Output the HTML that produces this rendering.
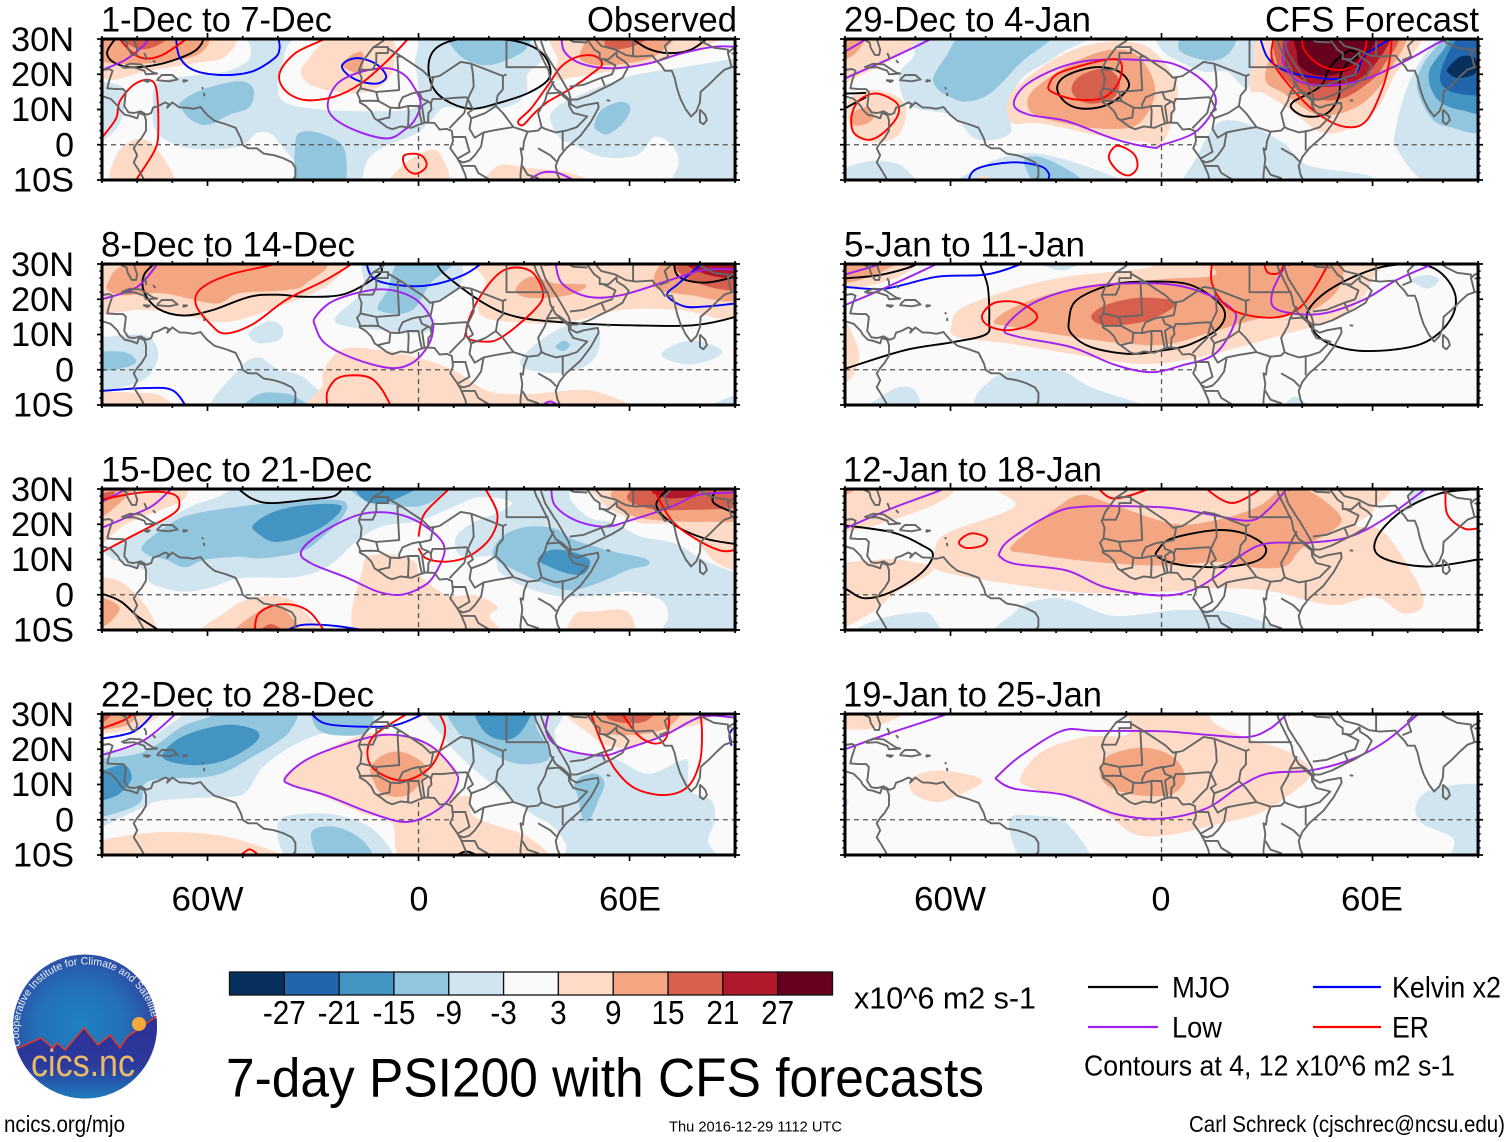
<!DOCTYPE html>
<html lang="en">
<head>
<meta charset="utf-8">
<title>7-day PSI200 with CFS forecasts</title>
<style>
html,body{margin:0;padding:0;background:#fff;}
svg{display:block;}
text{font-family:"Liberation Sans",sans-serif;fill:#000;}
</style>
</head>
<body>
<svg id="chart" xmlns="http://www.w3.org/2000/svg" width="1510" height="1142" viewBox="0 0 1510 1142">
<rect width="1510" height="1142" fill="#fff"/>
<g id="panels"></g>

<g font-size="35">
<text x="101" y="31.5" textLength="231" lengthAdjust="spacingAndGlyphs">1-Dec to 7-Dec</text>
<text x="101" y="256.5" textLength="254" lengthAdjust="spacingAndGlyphs">8-Dec to 14-Dec</text>
<text x="101" y="481.5" textLength="271" lengthAdjust="spacingAndGlyphs">15-Dec to 21-Dec</text>
<text x="101" y="706.5" textLength="273" lengthAdjust="spacingAndGlyphs">22-Dec to 28-Dec</text>
<text x="587" y="31.5" textLength="150" lengthAdjust="spacingAndGlyphs">Observed</text>
<text x="844" y="31.5" textLength="247" lengthAdjust="spacingAndGlyphs">29-Dec to 4-Jan</text>
<text x="844" y="256.5" textLength="241" lengthAdjust="spacingAndGlyphs">5-Jan to 11-Jan</text>
<text x="843" y="481.5" textLength="259" lengthAdjust="spacingAndGlyphs">12-Jan to 18-Jan</text>
<text x="843" y="706.5" textLength="259" lengthAdjust="spacingAndGlyphs">19-Jan to 25-Jan</text>
<text x="1265" y="31.5" textLength="214" lengthAdjust="spacingAndGlyphs">CFS Forecast</text>
</g>

<g font-size="34" text-anchor="end">
<text x="74" y="51" textLength="63" lengthAdjust="spacingAndGlyphs">30N</text>
<text x="74" y="86" textLength="63" lengthAdjust="spacingAndGlyphs">20N</text>
<text x="74" y="121" textLength="63" lengthAdjust="spacingAndGlyphs">10N</text>
<text x="74" y="156.5">0</text>
<text x="74" y="191.5" textLength="61" lengthAdjust="spacingAndGlyphs">10S</text>
<text x="74" y="276" textLength="63" lengthAdjust="spacingAndGlyphs">30N</text>
<text x="74" y="311" textLength="63" lengthAdjust="spacingAndGlyphs">20N</text>
<text x="74" y="346" textLength="63" lengthAdjust="spacingAndGlyphs">10N</text>
<text x="74" y="381.5">0</text>
<text x="74" y="416.5" textLength="61" lengthAdjust="spacingAndGlyphs">10S</text>
<text x="74" y="501" textLength="63" lengthAdjust="spacingAndGlyphs">30N</text>
<text x="74" y="536" textLength="63" lengthAdjust="spacingAndGlyphs">20N</text>
<text x="74" y="571" textLength="63" lengthAdjust="spacingAndGlyphs">10N</text>
<text x="74" y="606.5">0</text>
<text x="74" y="641.5" textLength="61" lengthAdjust="spacingAndGlyphs">10S</text>
<text x="74" y="726" textLength="63" lengthAdjust="spacingAndGlyphs">30N</text>
<text x="74" y="761" textLength="63" lengthAdjust="spacingAndGlyphs">20N</text>
<text x="74" y="796" textLength="63" lengthAdjust="spacingAndGlyphs">10N</text>
<text x="74" y="831.5">0</text>
<text x="74" y="866.5" textLength="61" lengthAdjust="spacingAndGlyphs">10S</text>
</g>

<g font-size="34" text-anchor="middle">
<text x="207.5" y="910.5" textLength="72" lengthAdjust="spacingAndGlyphs">60W</text>
<text x="419" y="910.5">0</text>
<text x="630" y="910.5" textLength="62" lengthAdjust="spacingAndGlyphs">60E</text>
<text x="950" y="910.5" textLength="72" lengthAdjust="spacingAndGlyphs">60W</text>
<text x="1161" y="910.5">0</text>
<text x="1372" y="910.5" textLength="62" lengthAdjust="spacingAndGlyphs">60E</text>
</g>

<g id="colorbar"></g>
<text x="854" y="1008.5" font-size="31" textLength="182" lengthAdjust="spacingAndGlyphs">x10^6 m2 s-1</text>

<g font-size="30">
<line x1="1088" y1="987" x2="1158" y2="987" stroke="#000" stroke-width="2.2"/>
<text x="1172" y="997.5" textLength="58" lengthAdjust="spacingAndGlyphs">MJO</text>
<line x1="1313" y1="987" x2="1381" y2="987" stroke="#0000ff" stroke-width="2.2"/>
<text x="1392" y="997.5" textLength="109" lengthAdjust="spacingAndGlyphs">Kelvin x2</text>
<line x1="1088" y1="1027" x2="1158" y2="1027" stroke="#a020f0" stroke-width="2.2"/>
<text x="1172" y="1037.5" textLength="50" lengthAdjust="spacingAndGlyphs">Low</text>
<line x1="1313" y1="1027" x2="1381" y2="1027" stroke="#ff0000" stroke-width="2.2"/>
<text x="1392" y="1037.5" textLength="37" lengthAdjust="spacingAndGlyphs">ER</text>
<text x="1084" y="1075.5" font-size="29" textLength="371" lengthAdjust="spacingAndGlyphs">Contours at 4, 12 x10^6 m2 s-1</text>
</g>

<text x="226" y="1096.5" font-size="55" textLength="758" lengthAdjust="spacingAndGlyphs">7-day PSI200 with CFS forecasts</text>
<text x="4" y="1132" font-size="23" textLength="121" lengthAdjust="spacingAndGlyphs">ncics.org/mjo</text>
<text x="669" y="1131.5" font-size="15" textLength="173" lengthAdjust="spacingAndGlyphs">Thu 2016-12-29 1112 UTC</text>
<text x="1189" y="1132" font-size="23" textLength="316" lengthAdjust="spacingAndGlyphs">Carl Schreck (cjschrec@ncsu.edu)</text>

<g>
<defs>
<radialGradient id="logoSky" cx="0.47" cy="0.5" r="0.55">
<stop offset="0" stop-color="#1f82c2"/><stop offset="0.55" stop-color="#2470b6"/><stop offset="1" stop-color="#2e46a2"/>
</radialGradient>
<linearGradient id="logoGround" x1="0" y1="0" x2="0" y2="1">
<stop offset="0" stop-color="#2c2f96"/><stop offset="0.6" stop-color="#2c3a9c"/><stop offset="1" stop-color="#1d7fc0"/>
</linearGradient>
<clipPath id="logoClip"><circle cx="85" cy="1026.5" r="72"/></clipPath>
<path id="logoArc" d="M20.5 1046 A67 67 0 1 1 151.5 1017"/>
</defs>
<circle cx="85" cy="1026.5" r="72" fill="url(#logoSky)"/>
<g clip-path="url(#logoClip)">
<path d="M10 1050 L18 1048 L41 1038 L53 1048 L57 1043 L65 1050 L84 1028 L98 1045 L110 1035 L120 1048 L127 1037 L160 1014 L160 1100 L10 1100 Z" fill="url(#logoGround)" stroke="#e0392a" stroke-width="1.5"/>
</g>
<circle cx="139" cy="1024" r="7" fill="#f6a93b"/>
<text font-size="10.5" style="fill:#eef4fb"><textPath href="#logoArc">Cooperative Institute for Climate and Satellites</textPath></text>
<text x="31" y="1076" font-size="38" textLength="104" lengthAdjust="spacingAndGlyphs" style="fill:#e9b96a">cics.nc</text>
</g>
</svg>

<script>
// ---------- colour scale values ----------
const levelBoundaries = [-27,-21,-15,-9,-3,3,9,15,21,27];
const bandCentres = [-30,-24,-18,-12,-6,0,6,12,18,24,30];
const bandColours = ['#07305f','#2166ac','#4393c3','#92c5de','#d1e5f0','#fafafa','#fddbc7','#f4a582','#d6604d','#b2182b','#67001f'];

// ---------- axis ticks ----------
const lonMajorTicks = [-60,0,60];
const lonMinorTicks = [-90,-80,-70,-50,-40,-30,-20,-10,10,20,30,40,50,70,80,90];
const latMajorTicks = [30,20,10,0,-10];
const latMinorTicks = [28,26,24,22,18,16,14,12,8,6,4,2,-2,-4,-6,-8];
const equatorVisibleLons = [[-90,10],[43,90]];
const meridianVisibleLats = [5,-10];

// ---------- map geometry (lon,lat) ----------
const coastlines = [
[-90,21.2,-88,21.5,-87,21,-87.5,19.5,-88,18,-88.5,16,-86,15.8,-84,15.8,-83.2,15,-83.5,12.5,-83.7,11,-82.5,9.2,-81,9,-80,9.2,-79,9.5,-77.3,8.5,-76,9,-75.5,10.5,-74,11,-72,12,-71,11.5,-71.5,10.5,-70,12,-68,10.6,-66,10.5,-64,10.2,-62,10.7,-61,9.5,-60,8.4,-58,6.8,-55,5.9,-52,4.8,-50.5,1.8,-50,0,-48.5,-1,-46,-1,-44,-2.5,-41,-3,-38.5,-3.8,-36,-5,-35,-6.5,-35,-9,-36.5,-11],
[-90,13.8,-87.5,13,-85.5,11,-85,10,-83.5,8.5,-82,8.2,-80,7.5,-79.5,9,-78,8.5,-77.5,7,-77.5,4,-78.7,2,-80,0.5,-81,-1,-80,-3,-81,-5,-79.7,-7,-78.5,-9,-77,-12],
[-90,29.5,-88,30.3,-85,30,-83,29,-82.7,27.5,-81.5,25.5,-80.3,25.5,-80,27,-81,30,-81,31],
[-84.5,22,-82,23,-79,22.8,-75.5,20.5,-74.3,20.2,-77.5,20,-78,21,-81,22,-84,21.8],
[-74.3,18.5,-73,19.8,-70,19.8,-68.5,18.5,-71,18,-74.3,18.3,-74.3,18.5],
[-78.3,18.3,-76.4,18.2,-77,17.8,-78.3,18.3],
[-67,18.3,-65.8,18.2,-66.8,17.9,-67,18.3],
[-78,26,-77.5,25,-77.5,24],[-75.5,24,-74.8,23.2],[-61.6,16.3,-61.2,15.8],[-61,14.7,-60.9,13.8],
[-5.5,35,-9.5,32,-10,29.5,-13,27.5,-16,23.5,-17,21,-16.2,19,-16.5,16,-17.5,14.7,-16.7,13,-16.7,12,-15,11,-13.5,9.5,-12.5,7.5,-11,6.5,-9,5,-7.5,4.4,-5,5.2,-2,4.8,0,5.7,2,6.3,4.5,6.2,6,4.3,8,4.5,9.5,3.9,9.8,1,9,-1,11,-3.8,12,-5.5,13.3,-8.5,13.8,-11],
[32.5,31,33.5,28,34.5,26,35.5,24,37,21,37.5,18.5,39,15.8,41,14.5,43.2,12.5,43.2,11.5,45,10.5,47,11.2,51,11.9,51.2,10.5,49,6.5,46,2.5,42,-1,40,-3.5,39,-6,39.5,-8.5,40.5,-10.5,40.5,-12],
[34.8,29.5,36,26,38.5,22,39.2,21,41,18,42.7,15,43.3,12.8,45,12.8,48.5,14,52,15.8,55,17.2,58,19,59.8,22.4,58.5,23.7,56.4,25,56.3,26.2,54,24.2,51.5,24.3,51.5,26,50,27,48,29.8,50,30.2,52,28,56,27,59,25.4,62,25,66.5,25.3,67.5,24,69,22.5,70,21,72,21,72.8,19,73.5,16,74.5,13,76,10,77.5,8,79,9.5,80,12,80.2,15,82.5,17,85,19.5,87,21.3,89,22,91,22.5],
[80,10,81.5,8.5,82,7,81,5.8,80,6.5,80,10],
[53.5,12.6,54.5,12.5]
];
const borders = [
[-13,27.7,-8.7,27.7,-8.7,26,-12,26,-12,23.5,-13,21.3,-17,21.3],
[-8.7,27.3,-4.8,25,-6,25,-5.5,15.5,-12,15,-16.5,16],
[-4.8,25,1.2,21,3.3,19,4.2,19.2,3.5,15.5,1,15,0.2,14.8],
[3.3,19,6,19.5,12,23.5,15,23,15.5,20,15.7,16.5,14,13,13.5,13.5,10,13.3,7,13,4,13,3.5,11.7,3.7,10,2.8,9,2.7,6.3],
[25,31,25,22,37,22],
[25,20,24,19.5,15,23],
[24,19.5,24,15.7,22.5,14,22,11,24,9,27,5,31,3.7,34,4,35,5,34,9,36,12.5,36.5,14.5,38.5,18],
[14,13,15.5,10,14,9,15,7.5,19,9,22,11],
[27,5,22,4.2,18.5,3.5,16,2,14.5,4.5,15,7.5],
[14,13,13,9,11,7,8.8,4.7],
[36.5,14.5,40,14.8,42.7,12.5,42.8,11,44,9,48,8,45,5,42,4,39,3.5,36,4.5,35,5],
[41,3.8,41,-1.6],
[34,-1,37.5,-3,39.2,-4.7],
[31,3.7,30,1,29.7,-1.4,29,-1,29.5,-4,29,-8.5,29,-12],
[29.5,-6,31,-8.5,34,-9.5,35,-11.5],
[40.5,-10.5,37.5,-11.5],
[12.3,-6,16,-6,17,-8,22,-11,24,-11,26,-11.5,29,-12],
[11.5,-4.5,12.7,-5,14.5,-4.5,16,-3,17.8,-0.5,18.5,3.5],
[9.8,2.2,13.3,2.2,14.5,-2,11,-4],
[-12,14.8,-11.4,12.4,-13.7,12.5,-16.7,12.4],
[-11.4,12.4,-8,10.5,-8.3,7.7,-9.5,7.5,-11.5,7],
[-8,10.5,-5.5,10.4,-3,11,-2.8,9.5,-3,5],
[-2.8,11,0,11,0.5,8,1,6],
[1,11,1.7,6.2],
[0.9,11,2.8,12.3,3.7,11.5],
[-5.5,10.4,-5.5,11.5,-4.5,13.5,-2,14.5,0.2,15,1,13,2.8,12.3],
[43,16.5,47,17,52,19,55,20,56,22.5,52,24.5],
[52,19,53,16.7],
[36,29.5,39,32,44,29.2,48,29],
[48,30,46,33],
[61,31,61,25.2],
[68.5,24,71,25,70,28,73,31],
[78,31,81,29,84,27.5,88,27,88,26,89,27,92,28],
[88,26,88.5,24,89,22],
[92,25,89,26]
];

// ---------- panel 1: 1-Dec to 7-Dec ----------
const base1 = -6;
const fills1 = [
[0,[-55,32,-47.6,26,-54,21,-73,18,-75.5,10,-74,3,-65,-1,-51,-0.5,-45.5,3.5,-40,1,-36,-13,-92,-13,-92,1,-90,1,-85,6,-83.5,15.5,-90,18,-92,18,-92,32]],
[0,[-33,31,-39,22,-40,16.5,-38,12,-27.7,10,-11.5,9.5,-1,10.5,0,15.5,-1,23,-3,31]],
[0,[-16,-13,-16,-10,-14.4,-4.3,-9.7,-0.5,-1,3,3.6,7,7.4,10.6,14,10,25.4,10.8,30.6,14.6,31,20,35.4,24.5,36.3,32,92,32,92,25.5,75,22,59.5,19.3,43.4,13,37.7,9,38.2,5,40.6,1.4,43.4,0.4,52,-3.4,62,-3,67,2.2,72,0,74,-5,72,-10,72,-13]],
[-12,[-67.5,12.2,-61.8,15.5,-51.4,18,-47,16,-48,10.8,-54,8.4,-60,5.6,-64.6,7,-67.5,10.3]],
[-12,[-35,0.4,-33,3.7,-26.7,2.8,-21,-1.5,-22,-13,-34,-13]],
[-12,[9.5,32,11.5,25.5,18.4,22.6,25,24,30.6,27.3,30,32]],
[-12,[50,5.6,52,9.9,57.6,12.2,60.3,10.3,58,6,53.8,3,51,3.9]],
[6,[20.4,-13,22.5,-6,30.6,-6.5,44,-8.3,52,-13]],
[6,[-8.8,-13,-6,-7.3,0.7,-2.4,6,-2.4,8.2,-13]],
[6,[-87,-13,-85.7,-2.6,-79.6,1.7,-74,-1.6,-69.4,-13]],
[6,[-95,32,-55,32,-55,25,-64.6,23,-78,20.7,-86,18.5,-90,18.8,-95,18]],
[12,[-92,32,-62,32,-62,26,-72.5,23.5,-86,23,-92,25]],
[18,[-86,32,-71,32,-74,28.3,-80,27.3]],
[6,[-24,31,-31.5,24,-33.4,20.3,-29.6,16.5,-18,14.6,-9.7,17.4,-6.8,24,-8.7,31]],
[12,[-21.5,22.6,-19,25.5,-15.8,26,-16.3,20.3,-19,20.8]],
[6,[38.7,20.3,39.6,24,41,32,84,32,82,28,70,24.3,59.5,21.7,48,19.8,43.4,19,39.6,18.4]],
[12,[45.8,25,47.2,28.8,50,33,72.8,33,67.8,25.5,58.5,23,51,22.6,47.2,23.5]],
[18,[52.9,29,54.8,32,67,32,62,28.3,56.5,27,53.8,27.4]]
];
const contours1 = [
['MJO',false,[-85.5,31,-88.5,26.5,-87,23.6,-81.7,22,-73,23,-64.6,26,-61.6,28.8,-61.3,31]],
['MJO',true,[10.2,29.7,4.5,26.9,2.8,21.7,4.5,15.6,9.3,11.8,15.4,10.2,22.6,11.8,31,14.6,36.8,18.4,37.2,22.6,34,26.9,27.3,29.5,17.8,30]],
['MJO',false,[59.5,31,65,27.4,71,26,77.5,27,83.2,31]],
['Kelvin',false,[-69,31,-68,25,-64,21.2,-56,19.8,-47.6,20.7,-41,24.5,-39.5,27.4,-40,31]],
['Kelvin',true,[-21.8,22.2,-20,24,-16.3,24.5,-11.6,22.6,-9.2,19.3,-11.6,17.4,-16.3,17.9,-20,19.8]],
['Low',false,[-90,21.2,-83.5,24,-78,28.3,-76.7,31]],
['Low',true,[-1.1,16,-4,19.8,-8.7,21.7,-16.3,20.7,-23,17.4,-25.8,11.7,-24,7.5,-17,3.7,-8.7,1.8,-4,4.2,-1.1,7,0.6,11.7]],
['Low',false,[40.6,31,41.5,26.4,46.3,23,54.8,21.7,65.2,23,74.7,25.9,84,27.8,90,27.8,92,27.8]],
['Low',false,[30,-11,34.9,-8,39.6,-8,46,-11]],
['ER',false,[-92,0,-89.8,2.3,-86,7.5,-85,12.2,-81,17,-76.7,18.4,-74.5,15.6,-74,4.2,-75,-1.5,-80.3,-10,-82,-13]],
['ER',false,[-88,33,-85,30,-81.7,26.4,-78,24.5,-73,25.4,-67,29.3,-64,32]],
['ER',false,[-24,32,-26.7,30,-35,26,-39.5,20.3,-38,15.5,-32.4,12.7,-24,13.6,-16.3,17.4,-8.7,24,-3,30,-1,32]],
['ER',true,[-0.4,-2.6,-4,-3,-4.2,-5.3,-2.6,-7.6,-0.2,-8.1,2.2,-6.2,1.7,-3.9]],
['ER',true,[28.4,6.8,32,10.3,36.8,16.9,40.6,22.2,45.3,25,50,25.2,52.2,23,50,20.7,43.4,16,36.8,12.2,33,9,29.7,5.6]]
];

// ---------- panel 2: 8-Dec to 14-Dec ----------
const base2 = 0;
const fills2 = [
[6,[-92,32,-16,32,-20,29.2,-26.5,23.5,-37.4,18.8,-53.7,13.6,-64.6,15,-78,17,-90,15.5,-92,15.5]],
[12,[-88.4,24.5,-78,31,-29,31,-32,24.5,-37.4,22.6,-51,21.7,-57.8,18.8,-72.8,21.7,-85,21.2]],
[6,[17.7,15.5,19,24.5,22.4,32,92,32,91,15,74,17,58,17,43,13.6,30.6,13.3]],
[12,[27.9,23.5,32,26.4,38.8,24.5,47.6,24,42.9,21.2,33.3,20.3,28.6,21.2]],
[12,[66.7,25.4,71.4,31,91,32,91,20,77,21.2,68.7,22.6]],
[18,[74,31,91,32,91,23.5,85,23,75.5,26.4]],
[24,[75.5,31,91,32,91,26.4,82.3,26.9]],
[-6,[-23.8,14.6,-15.6,22.6,-14.3,31,10,31,11.5,23.5,3.4,18,4.8,12.2,-0.7,10.3,-10.2,11.2,-19.7,12.2]],
[-12,[-11.6,18,-8.8,22.6,-4.8,31,10,31,3.4,24.5,-0.7,17.9,-4.8,15.9,-10.2,16.4]],
[-6,[-48.3,10.4,-42.9,13.7,-38.8,12.3,-39.5,8.5,-45.6,7.6]],
[-6,[-95,10,-90,9.3,-78,9.8,-74,4.8,-76.9,-1.9,-83.7,-4.8,-90,-5.9,-95,-7]],
[-12,[-93,4.5,-83.7,5,-80.3,2.2,-85,0.3,-93,-0.2]],
[-6,[-58.5,-13,-51,0.2,-45.6,3.5,-40,0.2,-32,-2.7,-25.2,-13]],
[-12,[-49.7,-12,-45.6,-7,-38.8,-6.6,-34.7,-7.8,-30.6,-12]],
[6,[-26.5,0.8,-21,6,-10.2,5.5,-0.7,3.6,10.2,-0.2,19.7,-6,30.6,-6.9,49.7,-6,56.5,-13,-25,-13,-27.2,-4]],
[6,[-93,-7,-80.9,-6.5,-72.8,-7.6,-70,-13,-93,-13]],
[-6,[29,2.6,34.7,8.3,42.9,12.6,51,11.7,50.3,3.6,42.9,-0.6,32,-0.2]],
[-12,[39,6.5,41.2,8.2,43,7,41.2,5.3]],
[-6,[69.4,5,76.9,8.3,85,6.4,85.7,4,78.2,1.6,71.4,2.6]],
[-6,[79.6,-12,90,-7.2,93,-7,93,-12]]
];
const contours2 = [
['MJO',false,[-74,31,-78,27,-78,22,-74,17.3,-67,15.4,-59,16.8,-48,20.7,-40,21.3,-32,20.7,-21,21.5,-11.5,26.8,-10.9,29.6,-14.3,31]],
['MJO',false,[4.8,31,7.5,27,18.4,19,28,15,43,13.3,60.5,12.6,78,12.6,90,15,93,17]],
['MJO',false,[72.5,31,74,26.4,81,24.7,90,26.4,93,28]],
['Kelvin',false,[-15,31,-12.9,26,-6,24,3.4,24,13,27,19,31]],
['Kelvin',false,[81.6,31,74,24.5,70.7,21.2,75.5,18,82.3,18,90,18.8,93,19]],
['Kelvin',false,[-93,-6,-90,-6,-78,-5.2,-70,-5.8,-65.7,-11]],
['Low',false,[-90,20,-80,23.5,-73.5,31]],
['Low',true,[-29.3,15,-23.8,19.7,-11.6,22.8,-2,20.7,3.4,15,4,10.3,2,5.7,-2,1.8,-8.2,0.5,-18.4,3.2,-26.5,7.4,-29.3,12.2]],
['Low',false,[38.8,31,40.8,24.5,48.3,20.7,57.8,21.2,71.4,25.4,81,28.3,90,28.5,93,28.5]],
['Low',false,[34,-11,37.4,-9,40.8,-11]],
['ER',false,[-38,32,-40.8,30,-53.7,27,-61.9,23,-63.3,18.5,-59.2,13,-55,10.3,-47,13,-37.4,20,-26.5,25.4,-19,30,-15,33]],
['ER',true,[25.9,28.8,32,27.9,35.4,22,33.3,17.3,23.8,9.3,18.4,8,13.6,9.7,15.6,17.3,21,25.5]],
['ER',false,[-25.8,-11,-26,-6.5,-23.5,-2.7,-19.7,-1.6,-14,-2.2,-10.5,-5.5,-7.5,-11]]
];

// ---------- panel 3: 15-Dec to 21-Dec ----------
const base3 = -6;
const fills3 = [
[0,[-92,33,-52.3,33,-52.3,30.7,-57,27.8,-63.7,25.5,-70.3,22.2,-81.7,16.5,-89.3,12.7,-92,12]],
[0,[-92,11.3,-86.4,9.9,-78,7,-76,3.2,-67.5,0.9,-60,1.8,-50.4,4.7,-35.3,5,-25.8,8,-17.3,15.5,-10.6,19.3,-1,20.7,3.6,22.2,11.2,25.5,17.8,27.8,26.4,26.4,23.5,23.6,15.9,20.7,10.7,16.5,11.2,11.7,15,10.6,21.6,10.8,23,6.5,30,2.3,40.6,-0.5,52,-0.1,60.5,0.9,69,-1.5,71,-6.2,69.5,-9.5,69.5,-13,-92,-13]],
[0,[43.9,26,49,21.7,55.7,20.3,63.3,16.5,72.8,14.6,81,9.9,90,6.3,93,6,93,33,46,33,43,30]],
[-12,[-78.4,14.1,-70.3,20.3,-63.7,23,-47.6,25.4,-30.5,26.9,-21,26.4,-21.5,22.2,-27.7,16,-33.4,12.2,-44.7,10.3,-51.4,10.8,-60.8,9.9,-66.5,7.8,-71.7,9.9,-77,11.3]],
[-18,[-47,19.8,-41,23.6,-31.5,25.5,-22,25.2,-25.8,20.3,-33.4,16.5,-41,15,-45.7,17.4]],
[-12,[-17.3,28,-18,32,8,32,6,28,-0.5,25,-10,26]],
[-18,[-17.3,28.8,-17.3,32,1,32,-6.8,27,-13.5,26]],
[-12,[21.2,12.7,24.5,17,31,19.3,38.7,18.8,44.4,15.5,55.7,12.2,64.3,10.3,65.2,8.4,59.5,7,52,3.7,43.4,1.3,35.8,3.2,27.3,7,22.1,9.9]],
[-18,[34,10,37.6,12.7,43.4,12.2,48.6,9.9,47.2,6,42.5,6,37.6,7.8]],
[6,[50,33,51.5,27,55.7,23.6,63.3,20.3,72.8,19.8,79.4,14.6,84.2,9.4,90,6.8,93,6.5,93,33]],
[12,[54.8,27.8,55.7,30,58,33,93,33,93,22,81.3,20.7,67.2,21.2,59.5,23]],
[18,[59.5,27,60.5,30,62,33,93,33,93,25.5,74.7,24,65.2,24.5]],
[24,[66.5,29,67.6,31,80.4,32,78.5,28.3,71.8,27.3,68,28.3]],
[6,[-89.8,14.6,-82.7,20.3,-68.5,26,-65.7,29,-66.5,32,-93,32,-93,14]],
[12,[-90,22,-85,26,-81,30,-80,33,-93,33,-93,22]],
[18,[-90,29,-86.5,29.3,-88,27,-93,26,-93,33,-84,33]],
[6,[-93,5,-90,5,-83.8,3.2,-76.2,-5.3,-75.7,-13,-93,-13]],
[12,[-89.5,-1,-85.5,-3,-85.5,-5.3,-89.5,-9,-93,-9,-93,-1]],
[6,[-62.7,-13,-54,-4.3,-47.6,-1,-39,-0.5,-33.4,-3.9,-29,-13]],
[12,[-54,-13,-44.7,-4.3,-38,-4.3,-34.3,-13]],
[18,[-46,-12,-42,-8.3,-37,-12]],
[6,[-16.3,-13,-15.8,8,-12.5,11.3,-6.8,11.3,-1,9.4,0.8,5,8.3,-0.1,16,-0.1,22.4,-3.4,20.2,-6.2,22,-13]],
[6,[43,-13,44.4,-5.7,50,-4.8,59.5,-4.8,60.3,-13]]
];
const contours3 = [
['MJO',false,[-52.3,31,-47.6,27.4,-42,26,-31.5,27,-24,28,-21,31]],
['MJO',false,[-92,0.2,-89.8,0.2,-84.5,-2,-79.8,-6.2,-74,-10,-72,-12]],
['MJO',false,[72,31,67.6,25.5,72.8,19.8,81.3,16,90,14.4,93,14.2]],
['MJO',false,[85,31,83.7,26.4,89,23.6,93,22.8]],
['Kelvin',false,[-39,-11,-33.4,-8.6,-24,-8.8,-9.7,-11]],
['Low',false,[-90,19,-83.6,21.7,-76,25,-70.8,29.5,-69,31]],
['Low',false,[-90,26.4,-84.5,29.3,-83,31]],
['Low',true,[-1.1,21.2,-8.7,23.3,-17.3,22.6,-27.7,17.5,-33.4,12.2,-30.5,8.9,-20,4.7,-11.6,0.9,-5,0,1.2,2.3,4.5,5.6,7.4,12.2,5.5,16.5]],
['Low',false,[37.7,31,38.7,25.5,44.4,21.2,52.9,19.3,60.5,21.2,71.9,25,79.4,28.3,90,29,93,29]],
['ER',false,[-92,11,-89.8,12.2,-82.7,16,-70.3,22.6,-68,25.9,-70,28.6,-78,29.1,-90,27,-92,26]],
['ER',false,[-46.6,-11,-45.7,-5.7,-41,-3,-35,-3,-30.5,-5.3,-26.3,-11]],
['ER',false,[0,16.5,1.7,23,8.3,29.7,10,32]],
['ER',false,[17,33,19,30,22.4,23,20.7,16.5,15,11.3,8.3,9.4,2.2,10.3,0,13.2]],
['ER',false,[66.4,31,71.9,21.2,79.4,15.5,86,12.5,90,12.7,93,13.5]]
];

// ---------- panel 4: 22-Dec to 28-Dec ----------
const base4 = 0;
const fills4 = [
[-6,[-92,19.7,-90,19.7,-81,20.7,-67.3,29.5,-66,33,-14,33,-12,27,-16,25,-23.8,25.4,-34.7,21.6,-44.2,15,-49.7,7.4,-59,6.4,-72.8,5.5,-79.6,3,-90,-2,-92,-2]],
[-6,[4,32,7.4,23,15,15,22.6,9,32,1.8,38.2,-1.9,42,-7.1,44.4,-13,82.7,-13,82.3,-6,84.2,0,83.2,5.6,77,8.4,76.6,16.5,73.8,16.5,65.2,13,55.7,17.3,46.3,18.9,40.6,19.8,38.7,24.5,38.7,32]],
[-12,[-90,17.4,-78,19.3,-67.3,26.4,-59,29.5,-58,33,-36,33,-36.7,25,-47,18,-57.8,12.6,-72.8,11.6,-78,10,-79.6,4.5,-90,0.8,-93,0.8,-93,17.4]],
[-18,[-72.8,17.8,-67.3,23.5,-55,26.9,-46.3,25.4,-46.3,22,-55,16.9,-64.6,15.5]],
[-18,[-93,14,-90,14,-83.7,15.5,-81.6,11.7,-85,7.4,-90,5.5,-93,5.5]],
[-12,[-29.3,33,-14.3,33,-14.3,25,-23.8,24,-29.3,26.4]],
[-12,[9.3,33,10.7,25.5,16.9,21.2,24.5,17,31,15.7,36.8,17,36.8,20.3,33.5,26.4,31.6,33]],
[-18,[16.4,33,18.3,25.5,24,22.6,29.2,25,31.6,33]],
[-12,[44.2,9.9,46.3,12.2,50.5,13,52.9,10.3,51,5.1,48.6,-0.1,46.7,0.4,45.3,6.5]],
[-6,[-40,-1.1,-32,1.7,-21,0.8,-11.6,-3.9,-8.2,-13,-34.7,-13]],
[-12,[-30.6,-4,-25.2,-1.9,-18.4,-4,-13.6,-8.7,-13.6,-13,-26.5,-13]],
[6,[-93,-13,-93,-7,-79.6,-4,-67.3,-3.5,-53.7,-5,-38.8,-10,-38,-13]],
[6,[-38,12.6,-26.5,19.7,-14.3,24.5,-6,24,3.4,21.2,11,14,10.7,12.7,11,7,14.5,6.5,15.4,1.3,21.6,-1.5,30,-4.3,36.8,-9.5,36.8,-13,-2,-13,-7.5,-1,-15.6,1.7,-26.5,6.4,-36,10]],
[12,[-13.6,15,-10.2,18.3,-4.8,19.3,1.4,16,2,12.6,-3.4,6.9,-10.2,7.4,-12.9,11.2]],
[6,[43.4,32,49,24,54.8,20.7,63.3,21.2,72.8,25.5,81.3,27.8,82.2,33]],
[12,[49,27.8,48,33,73.7,33,71.9,26.9,65.2,24.5,57.6,24,51.9,25]],
[18,[53.8,28.8,53,33,68,33,65.2,28.3,59.5,27.4]],
[6,[-93,25,-80,26,-72,31,-72,33,-93,33]],
[12,[-93,33,-79.5,33,-82,27.3,-90,25.5,-93,25.5]],
[18,[-93,33,-85,33,-90,27.3,-93,27]]
];
const contours4 = [
['MJO',false,[9.3,-11,13.6,-9,18.3,-11]],
['MJO',false,[-45.6,-10,-38.8,-10]],
['Kelvin',false,[-90,23,-81,25,-75.5,30,-74,32]],
['Kelvin',false,[-31.3,31,-26.5,27.3,-15.6,26.4,-6,27,3.4,31]],
['Kelvin',false,[89.4,26,88.4,24,89,21]],
['Low',false,[-90,18.3,-78,22.6,-68,31]],
['Low',true,[-37.8,12,-30.6,17.7,-15.6,23,-6,24,3.4,21,10.2,14,11,10.3,7.5,4.5,0.7,0.3,-5.4,-0.5,-14.3,2.2,-26.5,7,-36,9.8]],
['Low',false,[37.3,31,36.3,25,40.6,20.3,52,18.2,59.5,20.3,70,24,80.4,29.2,90,29,93,29]],
['ER',false,[-92,25,-90,25.9,-83.7,28.3,-80,31]],
['ER',false,[-1,32,-3.4,30,-12.9,23.6,-14.3,17,-10.2,12.7,-3.4,11.2,3.4,15,6.8,21.6,7.5,26.4,5.4,31]],
['ER',false,[48,32,49,30,52,22,55.7,14.6,61.4,9,69.9,7,76.6,9.4,80,16.5,80.6,25,79.9,32]],
['ER',false,[57,32,58,30,62.4,24,66.6,21.7,70,22.6,71.2,26.9,70.9,32]],
['ER',false,[-51,-10.5,-48,-8.4,-45,-10.5]]
];

// ---------- panel 5: 29-Dec to 4-Jan ----------
const base5 = 0;
const fills5 = [
[-6,[-74.6,19.7,-71.8,11.2,-59.6,8.3,-52.7,1.6,-43.3,3,-43.3,10,-39.9,18.6,-29.7,25.3,-20.1,33,-65.7,33,-70.5,25]],
[-12,[-64.9,19,-61.5,24.7,-54,33,-29.7,33,-40,23.3,-48.7,14.6,-55.5,12.2,-60.3,13.6,-63.7,15.9]],
[-6,[0,33,0,27,5.3,23.5,12,20.7,18.6,20.7,24.7,16.4,25,33]],
[-12,[4.8,27.4,8,33,21,33,20,27,15.7,24,10,24.5]],
[-6,[66.5,4.2,68.9,13.6,72.6,22.2,78.3,30,80,33,93,33,93,-13,74,-13,73.6,-10,69.8,-5.7,66.4,0.2]],
[-12,[72.6,16.5,74.5,23,80.2,30,84,33,93,33,93,5.6,82,5,76.4,8]],
[-18,[76,20.3,80.2,27,85,33,93,33,93,10.8,85,9.9,78.3,13]],
[-24,[79.2,18.4,82,27,87,33,93,33,93,16,84,14.6]],
[-30,[81.4,21.7,85,25,89.2,24.5,89.2,20.3,84.5,18.9,81.6,20.3]],
[-6,[14.8,5.1,18.6,7,25.2,5.6,34.7,0.4,41.3,-5.7,55.5,-8.1,60.3,-9.5,60.3,-13,6.3,-13,6.3,-9.5,9,-5.3,12,0.4]],
[0,[28,-11,34,-9.2,40,-11]],
[-6,[-93,-7,-90,-6.4,-81.5,-4.5,-73.3,-6.4,-70.5,-13,-93,-13]],
[-6,[-57,-13,-51,-6,-40,-2.5,-30,-3.5,-15,-8.5,-8,-13]],
[-12,[-39.2,-5,-35.8,-3.3,-29.7,-5.4,-22.9,-9.7,-22,-13,-33.7,-13]],
[6,[-54,-11,-50.5,-8.8,-46.4,-11]],
[6,[-93,33,-68,33,-71,28,-73,26,-87,19,-93,17]],
[6,[-89,12.6,-81.5,15.5,-73,11.7,-74.6,3,-81.5,0.7,-87.7,3]],
[12,[-93,33,-83.5,33,-87,26,-93,24]],
[12,[-88.2,8.8,-83.4,10.7,-82,7.4,-85.5,5.5,-88.2,6]],
[6,[-44,9.8,-42,15.5,-31,24,-18.8,28.8,-5,28.3,3,20,4.4,12.6,0.3,0.3,-5,0.8,-16,2.2,-34,6,-42,6]],
[12,[-38,10.7,-36.5,15.5,-25.6,23,-14.7,26.9,-6.5,25,-1.8,15.5,-6.5,6,-16,4.5,-27,6,-35,8]],
[18,[-25.6,16,-22.9,19.7,-16,21.6,-12,18.3,-13.3,13.6,-18.8,11.7,-23.5,12.6]],
[6,[25.2,15.5,26.2,23,31.8,33,72.6,33,66,19.3,61,9.9,52.7,4.2,45,3.7,36.6,9.9,29,14.6]],
[12,[29.5,18.4,31.8,27,35.6,33,67.9,33,65,21.2,58.4,12.7,50.8,8.9,43.2,8.9,34.7,14.6]],
[18,[32.8,23,34.7,33,66,33,63,22.2,57.4,16.5,49.9,12.7,41.3,13.6,36.6,17.4]],
[24,[35.2,23,37.5,33,64,33,60.3,22.2,53.6,17.5,45,16.5,38.5,19.3]],
[30,[38.5,26,39.4,33,60.3,33,57.4,24,50.8,20.3,44.2,19.8,39.4,22.2]]
];
const contours5 = [
['MJO',true,[52.7,26.4,48,22.1,45.1,16.5,37.5,12.2,37.4,9.9,41.3,8,47,8.9,50.4,13.6,50.8,19.3,52.7,23,55.5,24.9,55,26.4]],
['MJO',true,[-29.7,16,-26.9,19.7,-18.8,22,-12,20.7,-9.3,16.4,-14.7,11.7,-21.5,10.2,-26.9,11.7]],
['MJO',false,[-92,8.5,-90,10.3,-84,13.5]],
['MJO',false,[-92,14.5,-90,14.5,-84,14.7]],
['Kelvin',false,[27.6,32,30,25,34.7,21.2,42.3,19.3,50.8,18.7,55.5,20.7,57.4,25,62.2,28.3,65,30,67,31]],
['Kelvin',false,[-55.2,-11,-52.7,-6.9,-43,-5,-34.7,-6,-32,-8.3,-32.7,-11]],
['Low',false,[-92,17.5,-90,18.8,-76,25,-65.7,30,-64,32]],
['Low',false,[-92,25,-90,26.4,-84,30,-82,32]],
['Low',true,[-42,11.7,-38,17.4,-27,22.6,-16,24.2,-1,23.7,5.3,22.2,11.5,18.4,15.3,13.7,14.3,9,9,3.2,0,-0.1,-2.5,-0.8,-13.3,1.6,-27,6.7,-38,8.6]],
['Low',false,[36,31,35,27,34.7,23,39.4,17.9,48.9,16.9,58.4,18.8,69.8,24,79.3,29.2,85,31]],
['ER',true,[-88,8.8,-85.5,13,-80.7,14.5,-75.2,11.7,-75.2,7.9,-79.4,3.1,-83.5,1.4,-87.6,3.6]],
['ER',true,[-32,17,-28.3,20.7,-13.3,24.3,-11.6,19.3,-16,13.6,-24.2,12.8,-31,14.9]],
['ER',true,[-15,-3.5,-12.6,-0.3,-7.9,-2.6,-6.9,-6.4,-9.3,-8.7,-12.6,-7.3]],
['ER',false,[32.3,32,31.5,24,37.5,15.5,45,8.4,52.7,5,58.4,7,63,16.5,65,25,65.5,32]],
['ER',false,[40,32,40.5,27,45,22.6,50.8,21.2,55.5,23,57.9,27,58.4,32]]
];

// ---------- panel 6: 5-Jan to 11-Jan ----------
const base6 = 0;
const fills6 = [
[6,[-59.6,13,-57,17.4,-43.3,22.6,-27,26.4,-5,28.8,11,33,58.8,33,59.5,24.5,54.7,17.8,49.3,14,35.6,10.2,22,6.4,5.7,2.6,-7.9,1.7,-25.6,4.5,-43.3,7.4,-58.3,9.3]],
[12,[-47.6,13.7,-40.5,18.4,-24.2,23.2,0.3,25.7,15.2,27,13.9,33,47,33,51,24.4,42.4,16.7,28.8,14.8,15.2,11,1.6,7.2,-12,7.6,-29.7,10,-43.3,12.3]],
[18,[-20,15,-16,18.3,-6.5,20.4,3,19.7,3,17.4,-5.2,13.6,-16,12.6]],
[6,[-93,33,-70,33,-74.6,26.4,-93,23]],
[12,[-93,33,-72,33,-83,26.4,-93,25]],
[6,[-93,15,-90,14,-86,5,-87.5,-1,-90,-4,-93,-5]],
[-6,[-35,32,-21,32,-27,28.4,-32,29]],
[-6,[-50,-13,-47.3,-2,-29.7,-0.2,-20,-5,-1.1,-13]],
[-6,[-85.5,-13,-76,-5.4,-70,-6,-69.8,-13]],
[-6,[35,-13,37.7,-7.6,44.5,-13]],
[-6,[71,25.5,75.6,26.9,79,25.5,75.6,23]]
];
const contours6 = [
['MJO',false,[-92,25.5,-90,25.9,-80,26.9,-70.5,29.5,-68,32]],
['MJO',false,[-51.5,32,-51.4,29.5,-49.4,23.5,-49,14,-50,10,-59.6,7.8,-73.2,5.5,-90,0.3,-93,-0.5]],
['MJO',true,[-26.3,14,-24.2,19.7,-14.7,24,-3.8,25,8.4,24,17.3,17.8,16.6,12.2,8.4,7.3,0.3,5.5,-9.3,4.5,-20,6.4,-25.6,10.2]],
['MJO',true,[41.8,17,49,23.5,62.9,29.2,76.5,29.2,83.3,22,82,14,73.8,7.3,58.8,5.3,47.9,7.3,42.4,12.2]],
['Kelvin',false,[-93,23.5,-90,23.5,-78.7,23,-63.7,26.4,-50,27,-40,30,-38,32]],
['Low',false,[-92,17,-90,18.3,-80,22.6,-64,30,-62,32]],
['Low',false,[-92,26,-90,27,-80,30,-78,32]],
['Low',true,[-44.6,11.7,-36.5,18.9,-21.5,23.5,-1.1,24.5,11.2,22.1,20,17.3,20.7,13,15.2,4.5,5.7,1.2,-3.1,-0.7,-13.3,1.4,-25.6,6.4,-40.5,9.3]],
['Low',false,[36,31,31.5,22,33,17,44.9,15.8,57.2,19.7,66.9,25.5,77,30,79,32]],
['ER',false,[14.5,32,14.5,24,20,17,31.5,14.8,39.7,18,46.5,28.3,47.2,32]],
['ER',false,[29,31,30.2,27.6,33.6,27.6,35,31]],
['ER',true,[-51,15.5,-47.4,19,-40.5,19,-35.4,15.5,-37.8,12.6,-44,11.2,-49.4,12.6]]
];

// ---------- panel 7: 12-Jan to 18-Jan ----------
const base7 = 0;
const fills7 = [
[6,[-64.4,12.5,-61,17.5,-41.8,25,-41.8,33,56.5,33,60.5,24.4,55.1,19.7,63.3,17.7,72.8,3.4,74.2,-3.3,68.7,-5.2,60.5,-0.5,50.7,-2.9,42.5,-1.9,31.6,0.9,16.6,1.9,3,0.9,-18.8,0.4,-37.8,2.3,-63.7,7]],
[6,[-93,33,-60,33,-65,25.4,-93,18]],
[6,[-93,7,-81.5,9.8,-73.2,9.8,-65,7,-76,0.3,-81.5,-4.5,-93,-9]],
[12,[-93,33,-83,33,-93,27]],
[12,[-43,13,-37.8,18.2,-29.7,24.8,-22.9,28.3,-14.7,25.9,3,20.2,15.2,21.1,27.5,25,35.6,31,42.5,29.2,50.7,22.6,49.4,18.8,39.8,13.1,35.6,8.3,27.5,7.6,16.6,9.3,0.3,8.3,-18.8,9.3,-37.8,11.7]],
[-6,[-89.7,-13,-81.5,-7.3,-69.3,-5,-65,-6.4,-64.4,-13]],
[-6,[-41.8,-13,-41.2,-4.5,-33.7,-1.2,-25.6,-1.7,-13.3,-6,5.7,-4.3,22,-5.5,34.3,-13]],
[-6,[71,25,76,30,79,33,72,33]]
];
const contours7 = [
['MJO',false,[-93,20,-77,17.8,-68,14,-65,11.2,-68.5,6,-76.8,0.8,-84.3,-1,-89,1.2,-93,4]],
['MJO',true,[-1,12.7,3,16,15.2,18.3,23.4,17.4,29.5,13.6,27.5,9.8,18,7.9,5.7,8.4,-1,10.7]],
['MJO',false,[93,30.5,90,30,79,28.7,68,23.5,61.1,16,62.4,10.7,75,8,90,10,93,10.5]],
['Low',false,[-93,17.5,-76.7,24.5,-62,30,-60,32]],
['Low',false,[-46.4,11.2,-43.3,15.5,-31,23,-21.5,25,0.3,24.8,12.5,23,24.8,21,30.2,24,35.6,30,37,32]],
['Low',false,[-46.4,11.2,-41.9,8.8,-27,6.9,-16,2.1,-1,-0.2,8.4,1.2,16.6,6,23.4,11.7,30.2,14.6,42.4,14.8,53.3,16.4,62.9,21.2,75,30,77,32]],
['ER',true,[-57.6,15,-54.2,17.4,-49.8,16.2,-50.8,14,-55.5,13.3]],
['ER',false,[-18,31,-17.8,30,-13.3,27.3,-3.8,30,-2,32]],
['ER',false,[12.5,31,12.8,30,20,26,28.2,30,29,31]],
['ER',false,[80.8,31,81.2,23,86,18.8,90,18.8,93,18.8]]
];

// ---------- panel 8: 19-Jan to 25-Jan ----------
const base8 = 0;
const fills8 = [
[6,[-93,33,-70,33,-81,26.4,-90,25.5,-93,25]],
[6,[-40,12.4,-33.7,19.5,-21.5,23.5,-9.3,24.5,-8.6,33,9.8,33,15.2,27.3,23.4,23.5,37,18.8,42.4,13,35.6,6.5,27.5,1.7,16.6,-1.1,1.6,-4.4,-7.9,-4,-16,1.7,-27,6.5,-38,9.3]],
[12,[-17.6,13.6,-14.8,18.3,-5.2,20.4,3,18,6.8,12,3,7.4,-6.5,6.9,-14.8,9.3]],
[6,[-71.2,11.7,-63.7,14,-54.2,12.6,-51,10.7,-56.8,7.4,-63.7,5,-70.5,7.4]],
[-6,[-43.3,0,-35,1,-27,-1,-20,-13,-38,-13]],
[-6,[72.4,4.5,77.8,8.8,93,8.3,93,-13,82,-13,83,-5.5,74,-1]],
[-6,[-92,8,-89,5,-92,2]],
[6,[84,31,90,31,93,29,93,33,84,33]]
];
const contours8 = [
['Low',false,[-93,19,-90,20,-76,25,-61,30,-59,32]],
['Low',false,[-47.3,11.7,-40.5,17.8,-28.3,25.2,-18.8,25.2,0.3,25.1,13.9,24,24.8,23.5,30.9,25.9,35.6,30,37,32]],
['Low',false,[-47.3,11.7,-41.9,8.8,-27,6.9,-13.3,1.7,-0.4,0.3,12.5,3.1,22,9.3,30.2,13.1,42.4,14,54.7,17.4,64.2,22.6,73,30,75,32]]
];

const panelOrder = [
{key:'dec01',column:0,row:0,base:base1,fills:fills1,contours:contours1},
{key:'dec08',column:0,row:1,base:base2,fills:fills2,contours:contours2},
{key:'dec15',column:0,row:2,base:base3,fills:fills3,contours:contours3},
{key:'dec22',column:0,row:3,base:base4,fills:fills4,contours:contours4},
{key:'dec29',column:1,row:0,base:base5,fills:fills5,contours:contours5},
{key:'jan05',column:1,row:1,base:base6,fills:fills6,contours:contours6},
{key:'jan12',column:1,row:2,base:base7,fills:fills7,contours:contours7},
{key:'jan19',column:1,row:3,base:base8,fills:fills8,contours:contours8}
];

// ---------- axis functions ----------
const NS = 'http://www.w3.org/2000/svg';
const columnLeft = [102,845];
const rowTop = [39,264,489,714];
const pxPerLon = 3.517;
const pxPerLat = 3.525;
function xOf(lon,column){return columnLeft[column]+(lon+90)*pxPerLon;}
function yOf(lat,row){return rowTop[row]+(30-lat)*pxPerLat;}
function colourOf(level){return bandColours[bandCentres.indexOf(level)];}
const seriesStroke = {MJO:'#000000',Kelvin:'#0000ff',Low:'#a020f0',ER:'#ff0000'};

function smoothPath(flat,closed,column,row){
  const p=[];
  for(let i=0;i<flat.length;i+=2){p.push([xOf(flat[i],column),yOf(flat[i+1],row)]);}
  const n=p.length;
  let d='M'+p[0][0].toFixed(1)+' '+p[0][1].toFixed(1);
  const segments=closed?n:n-1;
  for(let i=0;i<segments;i++){
    const a=p[closed?(i-1+n)%n:Math.max(i-1,0)];
    const b=p[i];
    const c=p[(i+1)%n];
    const e=p[closed?(i+2)%n:Math.min(i+2,n-1)];
    const c1x=b[0]+(c[0]-a[0])/6,c1y=b[1]+(c[1]-a[1])/6;
    const c2x=c[0]-(e[0]-b[0])/6,c2y=c[1]-(e[1]-b[1])/6;
    d+='C'+c1x.toFixed(1)+' '+c1y.toFixed(1)+' '+c2x.toFixed(1)+' '+c2y.toFixed(1)+' '+c[0].toFixed(1)+' '+c[1].toFixed(1);
  }
  return closed?d+'Z':d;
}
function straightPath(flat,column,row){
  let d='';
  for(let i=0;i<flat.length;i+=2){
    d+=(i?'L':'M')+xOf(flat[i],column).toFixed(1)+' '+yOf(flat[i+1],row).toFixed(1);
  }
  return d;
}
function make(tag,parent){
  const el=document.createElementNS(NS,tag);
  parent.appendChild(el);
  return el;
}

const panelsRoot=document.getElementById('panels');
panelOrder.forEach(function(panel){
  const c=panel.column,r=panel.row;
  const left=xOf(-90,c),right=xOf(90,c),top=yOf(30,r),bottom=yOf(-10,r);
  const group=make('g',panelsRoot);
  
  

  const clip=make('clipPath',group);
  clip.setAttribute('id','clip-'+panel.key);
  const clipRect=make('rect',clip);
  clipRect.setAttribute('x',left);
  clipRect.setAttribute('y',top);
  clipRect.setAttribute('width',right-left);
  clipRect.setAttribute('height',bottom-top);

  const plot=make('g',group);
  plot.setAttribute('clip-path','url(#clip-'+panel.key+')');
  
  

  const baseRect=make('rect',plot);
  
  
  baseRect.setAttribute('x',left);
  baseRect.setAttribute('y',top);
  baseRect.setAttribute('width',right-left);
  baseRect.setAttribute('height',bottom-top);
  baseRect.setAttribute('fill',colourOf(panel.base));

  panel.fills.forEach(function(item){
    const shape=make('path',plot);
    
    
    shape.setAttribute('d',smoothPath(item[1],true,c,r));
    shape.setAttribute('fill',colourOf(item[0]));
  });

  equatorVisibleLons.forEach(function(span){
    const equator=make('line',plot);
    
    
    equator.setAttribute('x1',xOf(span[0],c));
    equator.setAttribute('x2',xOf(span[1],c));
    equator.setAttribute('y1',yOf(0,r));
    equator.setAttribute('y2',yOf(0,r));
    equator.setAttribute('stroke','#555');
    equator.setAttribute('stroke-width','1.3');
    equator.setAttribute('stroke-dasharray','5 4');
  });

  const meridian=make('line',plot);
  
  
  meridian.setAttribute('x1',xOf(0,c));
  meridian.setAttribute('x2',xOf(0,c));
  meridian.setAttribute('y1',yOf(meridianVisibleLats[0],r));
  meridian.setAttribute('y2',yOf(meridianVisibleLats[1],r));
  meridian.setAttribute('stroke','#555');
  meridian.setAttribute('stroke-width','1.3');
  meridian.setAttribute('stroke-dasharray','5 4');

  panel.contours.forEach(function(item){
    const line=make('path',plot);
    
    
    line.setAttribute('d',smoothPath(item[2],item[1],c,r));
    line.setAttribute('fill','none');
    line.setAttribute('stroke',seriesStroke[item[0]]);
    line.setAttribute('stroke-width','1.9');
  });

  const map=make('g',plot);
  
  
  map.setAttribute('fill','none');
  map.setAttribute('stroke','#666');
  map.setAttribute('stroke-width','1.9');
  map.setAttribute('stroke-linejoin','round');
  coastlines.forEach(function(flat){
    const coast=make('path',map);
    
    
    coast.setAttribute('d',straightPath(flat,c,r));
  });
  borders.forEach(function(flat){
    const border=make('path',map);
    
    
    border.setAttribute('d',straightPath(flat,c,r));
  });

  const frame=make('rect',group);
  
  
  frame.setAttribute('x',left);
  frame.setAttribute('y',top);
  frame.setAttribute('width',right-left);
  frame.setAttribute('height',bottom-top);
  frame.setAttribute('fill','none');
  frame.setAttribute('stroke','#000');
  frame.setAttribute('stroke-width','3');

  let tickPath='';
  lonMajorTicks.forEach(function(lon){
    const x=xOf(lon,c);
    tickPath+='M'+x+' '+(top-6)+'V'+top+'M'+x+' '+bottom+'V'+(bottom+6);
  });
  lonMinorTicks.forEach(function(lon){
    const x=xOf(lon,c);
    tickPath+='M'+x+' '+(top-3)+'V'+top+'M'+x+' '+bottom+'V'+(bottom+3);
  });
  latMajorTicks.forEach(function(lat){
    const y=yOf(lat,r);
    tickPath+='M'+(left-5)+' '+y+'H'+left+'M'+right+' '+y+'H'+(right+5);
  });
  latMinorTicks.forEach(function(lat){
    const y=yOf(lat,r);
    tickPath+='M'+(left-2.5)+' '+y+'H'+left+'M'+right+' '+y+'H'+(right+2.5);
  });
  const ticks=make('path',group);
  
  
  ticks.setAttribute('d',tickPath);
  ticks.setAttribute('stroke','#000');
  ticks.setAttribute('stroke-width','1.7');
  ticks.setAttribute('fill','none');
});

// ---------- colour bar ----------
const barRoot=document.getElementById('colorbar');
const barLeft=229.5,barTop=972,barHeight=23;
const boxWidth=603/bandColours.length;
bandColours.forEach(function(colour,i){
  const box=make('rect',barRoot);
  
  
  box.setAttribute('x',barLeft+i*boxWidth);
  box.setAttribute('y',barTop);
  box.setAttribute('width',boxWidth);
  box.setAttribute('height',barHeight);
  box.setAttribute('fill',colour);
  box.setAttribute('stroke','#111');
  box.setAttribute('stroke-width','1.3');
});
levelBoundaries.forEach(function(level,i){
  const label=make('text',barRoot);
  
  
  label.setAttribute('x',barLeft+(i+1)*boxWidth);
  label.setAttribute('y',1024);
  label.setAttribute('font-size','33');
  label.setAttribute('text-anchor','middle');
  label.textContent=String(level);
  const naturalWidth=label.getComputedTextLength();
  label.setAttribute('textLength',(naturalWidth*0.9).toFixed(1));
  label.setAttribute('lengthAdjust','spacingAndGlyphs');
});
</script>
</body>
</html>
